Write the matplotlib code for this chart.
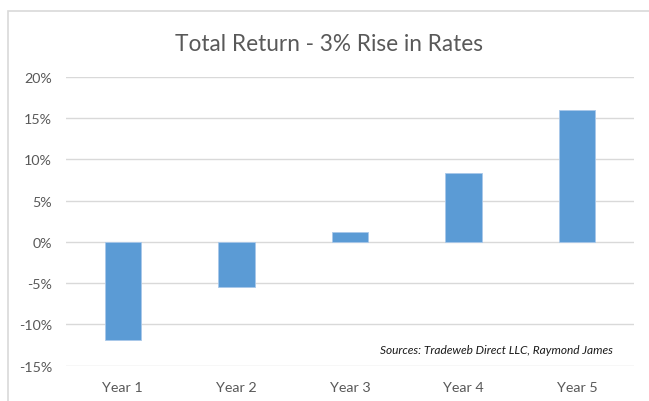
import matplotlib.pyplot as plt
from matplotlib.patches import Rectangle
from matplotlib.ticker import FuncFormatter

years = ['Year 1', 'Year 2', 'Year 3', 'Year 4', 'Year 5']
total_return = [-11.9, -5.5, 1.25, 8.4, 16.0]
y_ticks = [-15, -10, -5, 0, 5, 10, 15, 20]

bar_color = '#5b9bd5'
text_gray = '#595959'
grid_gray = '#d9d9d9'

plt.rcParams['font.family'] = ['Lato', 'DejaVu Sans']

fig = plt.figure(figsize=(6.49, 4.02), dpi=100)
ax = fig.add_axes([0.1017, 0.0883, 0.8752, 0.7177])

x = range(len(years))
ax.bar(x, total_return, width=0.32, color=bar_color, edgecolor='#a9c8ea',
       linewidth=0.6, zorder=3)

ax.set_xlim(-0.5, len(years) - 0.5)
ax.set_ylim(-15, 20)
ax.set_yticks(y_ticks)
ax.yaxis.set_major_formatter(FuncFormatter(lambda v, p: f'{v:.0f}%'))
ax.set_xticks(list(x))
ax.set_xticklabels(years)
ax.tick_params(axis='both', length=0, labelsize=10.3, colors=text_gray)
ax.tick_params(axis='y', pad=10)
ax.tick_params(axis='x', pad=11)
ax.grid(axis='y', color=grid_gray, linewidth=1.0, zorder=0)
for s in ax.spines.values():
    s.set_visible(False)

fig.text(0.507, 0.89, 'Total Return - 3% Rise in Rates', ha='center', va='center',
         fontsize=16.3, color=text_gray)
ax.text(0.963, 0.055, 'Sources: Tradeweb Direct LLC, Raymond James',
        transform=ax.transAxes, ha='right', va='center', fontsize=8.6,
        style='italic', color='#1a1a1a')

# chart area border
fig.patches.append(Rectangle((8 / 649, -0.05), 1.0, 0.05 + (402 - 12) / 402,
                             transform=fig.transFigure, fill=False,
                             edgecolor=grid_gray, linewidth=1.2))

fig.savefig('out.png', dpi=100)
